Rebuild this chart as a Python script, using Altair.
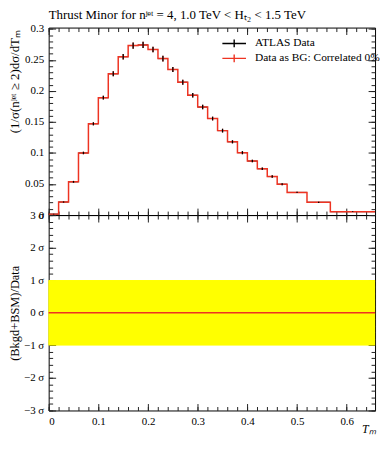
import altair as alt
import pandas as pd

FONT = "Liberation Serif"
RED = "#EE3322"

# ---- data ----
bin_edges = [0.00, 0.02, 0.04, 0.06, 0.08, 0.10, 0.12, 0.14, 0.16, 0.18, 0.20,
             0.22, 0.24, 0.26, 0.28, 0.30, 0.32, 0.34, 0.36, 0.38, 0.40, 0.42,
             0.44, 0.46, 0.48, 0.52, 0.567, 0.657]
data_values = [0.0015, 0.021, 0.0535, 0.100, 0.147, 0.189, 0.2275, 0.255, 0.273,
               0.274, 0.2667, 0.252, 0.2345, 0.214, 0.193, 0.174, 0.1555, 0.136,
               0.118, 0.1005, 0.087, 0.0746, 0.062, 0.0497, 0.0365, 0.0206, 0.0055]
data_errors = [0.0005, 0.001, 0.0015, 0.002, 0.0025, 0.003, 0.004, 0.0045, 0.005,
               0.005, 0.0045, 0.0045, 0.004, 0.004, 0.0035, 0.0035, 0.003, 0.003,
               0.0025, 0.0025, 0.002, 0.002, 0.002, 0.0015, 0.001, 0.001, 0.0005]
pull_values = [0.0, 0.0, 0.0, 0.0, 0.0, 0.0, 0.0, 0.0, 0.0, 0.0, 0.0, 0.0, 0.0, 0.0,
               0.0, 0.0, 0.0, 0.0, 0.0, 0.0, 0.0, 0.0, 0.0, 0.0, 0.0, 0.0, 0.0]
series_names = ["ATLAS Data", "Data as BG: Correlated 0%"]

x_major = [0, 0.1, 0.2, 0.3, 0.4, 0.5, 0.6]
x_minor = [round(0.02 * i, 2) for i in range(33)]
y_major_top = [0, 0.05, 0.1, 0.15, 0.2, 0.25, 0.3]
y_minor_top = [round(0.01 * i, 2) for i in range(31)]
y_major_bot = [-3, -2, -1, 0, 1, 2, 3]
y_minor_bot = [round(-3 + 0.2 * i, 1) for i in range(31)]

XMAX = 0.657
TITLE = "Thrust Minor for nʲᵉᵗ = 4, 1.0 TeV < Hₜ₂ < 1.5 TeV"
YTITLE_TOP = "(1/σ(nʲᵉᵗ ≥ 2)dσ/dTₘ"
YTITLE_BOT = "(Bkgd+BSM)/Data"
XTITLE = "Tₘ"

W, H_TOP, H_BOT = 329, 189, 197
MAJ, MIN = 7, 4

# ---- tables ----
bins_df = pd.DataFrame({
    "lo": bin_edges[:-1],
    "hi": bin_edges[1:],
    "val": data_values,
    "err": data_errors,
})
bins_df["mid"] = (bins_df["lo"] + bins_df["hi"]) / 2
bins_df["elo"] = bins_df["val"] - bins_df["err"]
bins_df["ehi"] = bins_df["val"] + bins_df["err"]
bins_df["series"] = series_names[0]

step_df = pd.DataFrame({"x": bin_edges, "y": data_values + [data_values[-1]]})
step_df["series"] = series_names[1]

pull_df = pd.DataFrame({"x": bin_edges, "y": pull_values + [pull_values[-1]]})
band_df = pd.DataFrame({"x0": [0.0], "x1": [XMAX], "lo": [-1.0], "hi": [1.0]})
title_df = pd.DataFrame({"t": [TITLE]})

xs = alt.Scale(domain=[0, XMAX], nice=False, zero=False)
ys_top = alt.Scale(domain=[0, 0.302], nice=False)
ys_bot = alt.Scale(domain=[-3, 3], nice=False)
cscale = alt.Scale(domain=series_names, range=["black", RED])


def axis(orient, values, size, **kw):
    base = dict(orient=orient, values=values, tickSize=size, offset=-size,
                domain=False, grid=False, labels=False, tickColor="#222",
                tickWidth=1, labelFont=FONT, titleFont=FONT)
    base.update(kw)
    return alt.Axis(**base)


legend = alt.Legend(title=None, orient="none", legendX=179, legendY=8,
                    symbolType="M-1.7,0L1.7,0M0,-0.55L0,0.55", symbolSize=196,
                    symbolStrokeWidth=1.4, labelFont=FONT, labelFontSize=11.5,
                    labelLimit=400, rowPadding=0, labelOffset=13,
                    labelColor="black")
color = alt.Color("series:N", scale=cscale, legend=legend)

# ---- top panel ----
top_h = alt.Chart(bins_df).mark_rule(color="black", strokeWidth=1).encode(
    x=alt.X("lo:Q", scale=xs, axis=axis("top", x_major, MAJ), title=None),
    x2="hi:Q",
    y=alt.Y("val:Q", scale=ys_top, axis=axis("right", y_major_top, MAJ), title=None),
)
top_rerr = alt.Chart(bins_df).mark_rule(color=RED, strokeWidth=1.2).encode(
    x=alt.X("mid:Q", scale=xs, axis=axis("top", x_minor, MIN), title=None),
    y=alt.Y("elo:Q", scale=ys_top, axis=axis("right", y_minor_top, MIN), title=None),
    y2="ehi:Q",
)
top_line = alt.Chart(step_df).mark_line(interpolate="step-after", strokeWidth=1.5).encode(
    x=alt.X("x:Q", scale=xs, axis=axis("bottom", x_major, MAJ), title=None),
    y=alt.Y("y:Q", scale=ys_top,
            axis=axis("left", y_major_top, MAJ, labels=True, format="~g",
                      labelFontSize=11, labelPadding=5, labelColor="black",
                      title=YTITLE_TOP, titleFontSize=13, titleFontWeight="normal",
                      titleColor="black", titleAlign="right", titleBaseline="middle",
                      titleAngle=-90, titleX=-41, titleY=2)),
    color=color,
)
top_err = alt.Chart(bins_df).mark_rule(strokeWidth=1.3).encode(
    x=alt.X("mid:Q", scale=xs, axis=axis("bottom", x_minor, MIN), title=None),
    y=alt.Y("elo:Q", scale=ys_top, axis=axis("left", y_minor_top, MIN), title=None),
    y2="ehi:Q",
    color=color,
)
top_title = alt.Chart(title_df).mark_text(
    align="left", baseline="middle", font=FONT, fontSize=13, color="black"
).encode(text="t:N", x=alt.value(0), y=alt.value(-13))

top = alt.layer(top_h, top_rerr, top_line, top_err, top_title).resolve_axis(
    x="independent", y="independent"
).properties(width=W, height=H_TOP)

# ---- bottom panel ----
band_axes = [
    (axis("bottom", x_major, MAJ, labels=True, format="~g", labelFontSize=11,
          labelPadding=5, labelColor="black", title=XTITLE, titleFontSize=12,
          titleFontStyle="italic", titleFontWeight="normal", titleColor="black",
          titleAnchor="end", titlePadding=-3),
     axis("left", y_major_bot, MAJ, labels=True, labelFontSize=11, labelPadding=5,
          labelColor="black",
          labelExpr="(datum.value < 0 ? '−' + abs(datum.value) : '' + datum.value) + ' σ'",
          title=YTITLE_BOT, titleFontSize=12.5, titleFontWeight="normal",
          titleColor="black", titleAlign="center", titleBaseline="middle",
          titleAngle=-90, titleX=-41, titleY=H_BOT / 2)),
    (axis("bottom", x_minor, MIN), axis("left", y_minor_bot, MIN)),
    (axis("top", x_major, MAJ), axis("right", y_major_bot, MAJ)),
]
band_layers = []
for i, (xa, ya) in enumerate(band_axes):
    band_layers.append(
        alt.Chart(band_df).mark_rect(color="#FFFF00").encode(
            x=alt.X("x0:Q", scale=xs, axis=xa, title=XTITLE if i == 0 else None),
            x2="x1:Q",
            y=alt.Y("lo:Q", scale=ys_bot, axis=ya, title=YTITLE_BOT if i == 0 else None),
            y2="hi:Q",
        )
    )
pull_line = alt.Chart(pull_df).mark_line(interpolate="step-after", color=RED,
                                         strokeWidth=1.5).encode(
    x=alt.X("x:Q", scale=xs, axis=axis("top", x_minor, MIN), title=None),
    y=alt.Y("y:Q", scale=ys_bot, axis=axis("right", y_minor_bot, MIN), title=None),
)
bottom = alt.layer(*band_layers, pull_line).resolve_axis(
    x="independent", y="independent"
).properties(width=W, height=H_BOT)

chart = alt.vconcat(top, bottom, spacing=0, bounds="flush").resolve_scale(
    x="independent", y="independent", color="independent"
).properties(
    padding={"left": 0, "top": -2, "right": 0, "bottom": 0}
).configure_view(stroke="black", strokeWidth=1)

chart.save("out.html", embed_options={"renderer": "svg", "actions": False})
